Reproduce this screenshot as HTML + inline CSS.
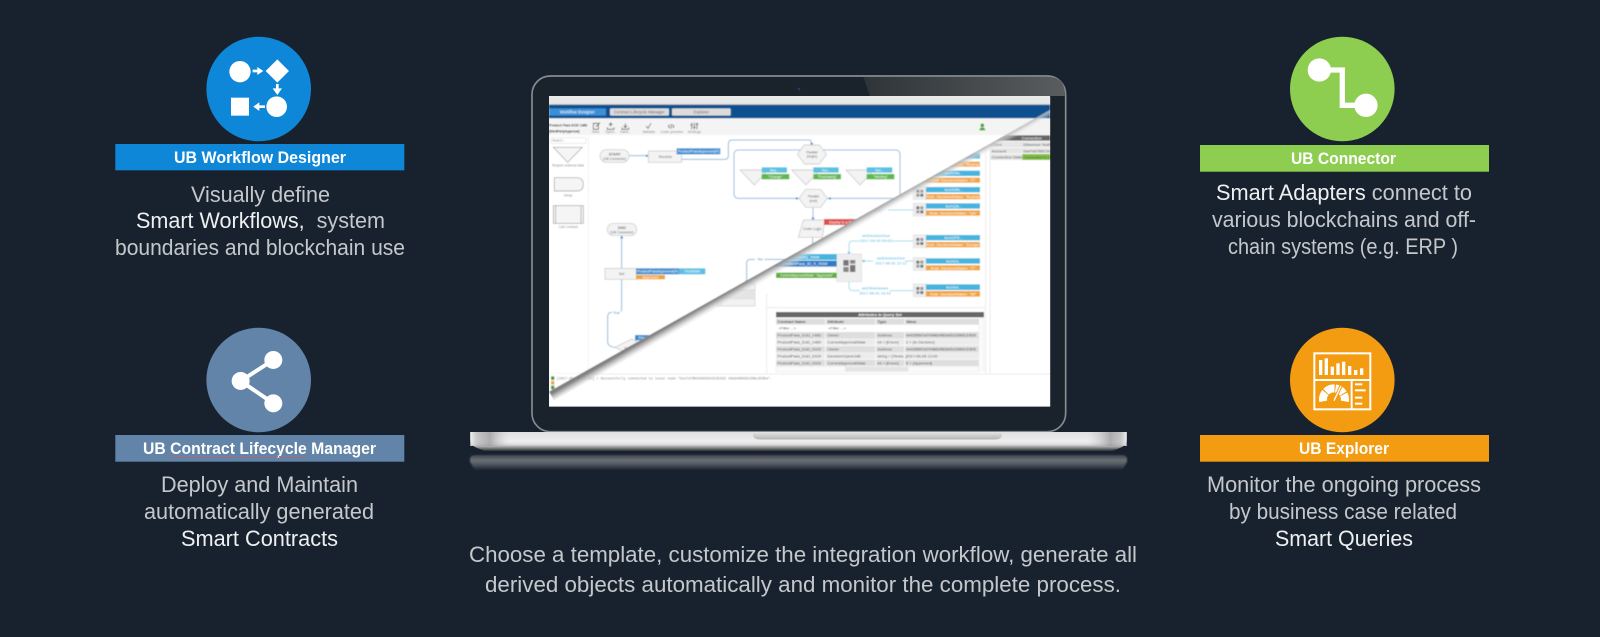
<!DOCTYPE html>
<html><head><meta charset="utf-8"><title>UB Platform</title>
<style>
html,body{margin:0;padding:0;background:#18222f;width:1600px;height:637px;overflow:hidden}
svg{display:block}
text{font-family:"Liberation Sans",sans-serif}
.p{font-size:22px;fill:#c4c8cb}
.b{fill:#eef0f0}
.t{font-size:16.5px;font-weight:bold;fill:#fff}
.s{font-size:12px;fill:#666;text-anchor:middle}
.w{font-size:12px;fill:#fff;text-anchor:middle}
.l{font-size:12px;fill:#888;text-anchor:middle}
.c{font-size:12px;fill:#35b4e0;text-anchor:middle}
.q{font-size:12px;fill:#555}
.h{font-size:12px;fill:#444;font-weight:bold}
.ln{fill:none;stroke:#8fbbe0;stroke-width:3}
.d{fill:none;stroke:#a5dcf2;stroke-width:3}
.n{fill:#f3f3f3;stroke:#c4c4c4;stroke-width:2}
.ar{fill:#3a86c8}
</style></head><body>
<svg width="1600" height="637" viewBox="0 0 1600 637" xmlns="http://www.w3.org/2000/svg">
<defs>
<clipPath id="up"><polygon points="87,80 1590,80 1590,120 87,965"/></clipPath>
<clipPath id="lo"><polygon points="87,965 1590,120 1590,1010 87,1010"/></clipPath>
<clipPath id="scr"><rect x="87" y="80" width="1503" height="930"/></clipPath>
<linearGradient id="shade" gradientUnits="userSpaceOnUse" x1="838" y1="542" x2="853" y2="568">
<stop offset="0" stop-color="#808080"/><stop offset=".45" stop-color="#c4c4c4" stop-opacity=".8"/><stop offset="1" stop-color="#fff" stop-opacity="0"/></linearGradient>
<linearGradient id="base" x1="0" y1="0" x2="0" y2="1">
<stop offset="0" stop-color="#e0e1e4"/><stop offset=".5" stop-color="#f0f0f0"/><stop offset=".66" stop-color="#dcdcdd"/><stop offset=".82" stop-color="#8d8e90"/><stop offset="1" stop-color="#2c3036"/></linearGradient>
<linearGradient id="ends" x1="0" y1="0" x2="1" y2="0">
<stop offset="0" stop-color="#f4f4f4" stop-opacity=".9"/><stop offset=".012" stop-color="#aaa" stop-opacity=".6"/><stop offset=".03" stop-color="#929296" stop-opacity=".7"/><stop offset=".06" stop-color="#ccc" stop-opacity=".05"/><stop offset=".94" stop-color="#ccc" stop-opacity=".05"/><stop offset=".975" stop-color="#929296" stop-opacity=".7"/><stop offset=".99" stop-color="#aaa" stop-opacity=".6"/><stop offset="1" stop-color="#f4f4f4" stop-opacity=".9"/></linearGradient>
<linearGradient id="refl" x1="0" y1="0" x2="0" y2="1">
<stop offset="0" stop-color="#3d444c"/><stop offset=".35" stop-color="#6b7076"/><stop offset=".7" stop-color="#474e57"/><stop offset="1" stop-color="#18222f"/></linearGradient>
<linearGradient id="gloss" x1="0" y1="0" x2="1" y2="0">
<stop offset="0" stop-color="#2e3438"/><stop offset="1" stop-color="#5a5c5e"/></linearGradient>
<linearGradient id="notch" x1="0" y1="0" x2="0" y2="1"><stop offset="0" stop-color="#e4e4e4"/><stop offset="1" stop-color="#b5b5b5"/></linearGradient>
<filter id="soft" x="0" y="0" width="1" height="1"><feGaussianBlur stdDeviation="1.2"/></filter>
<filter id="soft2" x="-.02" y="-.3" width="1.04" height="1.6"><feGaussianBlur stdDeviation=".7"/></filter>
<g id="grid"><rect x="0" y="0" width="38" height="38" fill="#eee" stroke="#ddd" stroke-width="2"/><rect x="9" y="9" width="9" height="9" fill="#777"/><rect x="21" y="9" width="9" height="9" fill="#999"/><rect x="9" y="21" width="9" height="9" fill="#999"/><rect x="21" y="21" width="9" height="9" fill="#777"/></g>
</defs>
<rect width="1600" height="637" fill="#18222f"/>

<!-- Left top -->
<circle cx="258.7" cy="89" r="52.3" fill="#0e87d9"/>
<g transform="translate(100,20) scale(.3333)" fill="#fff">
<circle cx="420" cy="155" r="32"/><polygon points="532,118 567,153 532,188 497,153"/>
<rect x="393" y="233" width="54" height="54"/><circle cx="530" cy="260" r="31"/>
<rect x="458" y="149" width="18" height="8"/><polygon points="472,141 490,153 472,165"/>
<rect x="528" y="192" width="8" height="16"/><polygon points="518,205 546,205 532,225"/>
<rect x="475" y="256" width="20" height="8"/><polygon points="478,247 460,260 478,273"/>
</g>
<rect x="115.3" y="144" width="289" height="26.3" fill="#0e87d9"/>
<text class="t" x="174" y="163" textLength="172" lengthAdjust="spacingAndGlyphs">UB Workflow Designer</text>
<text class="p" x="191" y="202" textLength="139" lengthAdjust="spacingAndGlyphs">Visually define</text>
<text class="p" x="136" y="228" textLength="249" lengthAdjust="spacingAndGlyphs" xml:space="preserve"><tspan class="b">Smart Workflows,</tspan>  system</text>
<text class="p" x="115" y="255" textLength="290" lengthAdjust="spacingAndGlyphs">boundaries and blockchain use</text>

<!-- Left bottom -->
<circle cx="258.7" cy="380" r="52.3" fill="#6184a8"/>
<g transform="translate(100,310) scale(.3333)" fill="#fff">
<path d="M520 150 L422 213 L520 280" fill="none" stroke="#fff" stroke-width="12"/>
<circle cx="520" cy="150" r="27"/><circle cx="422" cy="213" r="27"/><circle cx="520" cy="280" r="27"/>
</g>
<rect x="115.3" y="435" width="289" height="26.7" fill="#6184a8"/>
<text class="t" x="143" y="454" textLength="233" lengthAdjust="spacingAndGlyphs">UB Contract Lifecycle Manager</text>
<path d="M170 456.5H237M240 456.5H307" stroke="#c9605f" stroke-width="1" stroke-dasharray="2 1" fill="none"/>
<text class="p" x="161" y="492" textLength="197" lengthAdjust="spacingAndGlyphs">Deploy and Maintain</text>
<text class="p" x="144" y="519" textLength="230" lengthAdjust="spacingAndGlyphs">automatically generated</text>
<text class="p b" x="181" y="546" textLength="157" lengthAdjust="spacingAndGlyphs">Smart Contracts</text>

<!-- Right top -->
<circle cx="1342.3" cy="89" r="52.3" fill="#8dce50"/>
<g transform="translate(1160,20) scale(.3333)" fill="#fff">
<path d="M478 150H547V256H618" fill="none" stroke="#fff" stroke-width="16"/>
<circle cx="478" cy="150" r="35"/><circle cx="618" cy="256" r="35"/>
</g>
<rect x="1200" y="145" width="289" height="26.7" fill="#8dce50"/>
<text class="t" x="1291" y="164" textLength="105" lengthAdjust="spacingAndGlyphs">UB Connector</text>
<text class="p" x="1216" y="200" textLength="256" lengthAdjust="spacingAndGlyphs"><tspan class="b">Smart Adapters</tspan> connect to</text>
<text class="p" x="1212" y="227" textLength="264" lengthAdjust="spacingAndGlyphs">various blockchains and off-</text>
<text class="p" x="1228" y="254" textLength="230" lengthAdjust="spacingAndGlyphs">chain systems (e.g. ERP )</text>

<!-- Right bottom -->
<circle cx="1342.3" cy="380" r="52.3" fill="#f39c12"/>
<g transform="translate(1160,310) scale(.3333)" fill="#fff">
<rect x="463" y="130" width="168" height="168" fill="none" stroke="#fff" stroke-width="6"/>
<path d="M463 210H631M575 210V298" stroke="#fff" stroke-width="6" fill="none"/>
<rect x="477" y="150" width="10" height="45"/><rect x="494" y="145" width="10" height="50"/><rect x="512" y="170" width="10" height="25"/><rect x="529" y="160" width="10" height="35"/><rect x="546" y="155" width="10" height="40"/><rect x="564" y="168" width="10" height="27"/><rect x="582" y="180" width="10" height="15"/><rect x="600" y="175" width="10" height="20"/>
<path d="M489.5 274A33 33 0 1 1 554.5 274" fill="none" stroke="#fff" stroke-width="24" stroke-dasharray="28 3"/>
<path d="M522 272L543 228" stroke="#f39c12" stroke-width="10"/>
<path d="M522 272L543 228" stroke="#fff" stroke-width="4"/>
<rect x="585" y="220" width="22" height="6"/><rect x="585" y="238" width="32" height="6"/><rect x="585" y="260" width="22" height="6"/><rect x="585" y="278" width="22" height="6"/>
</g>
<rect x="1200" y="435" width="289" height="26.7" fill="#f39c12"/>
<text class="t" x="1299" y="454" textLength="90" lengthAdjust="spacingAndGlyphs">UB Explorer</text>
<text class="p" x="1207" y="492" textLength="274" lengthAdjust="spacingAndGlyphs">Monitor the ongoing process</text>
<text class="p" x="1229" y="519" textLength="228" lengthAdjust="spacingAndGlyphs">by business case related</text>
<text class="p b" x="1275" y="546" textLength="138" lengthAdjust="spacingAndGlyphs">Smart Queries</text>

<!-- Bottom text -->
<text class="p" x="469" y="562" textLength="668" lengthAdjust="spacingAndGlyphs">Choose a template, customize the integration workflow, generate all</text>
<text class="p" x="485" y="592" textLength="636" lengthAdjust="spacingAndGlyphs">derived objects automatically and monitor the complete process.</text>

<!-- Reflection -->
<path filter="url(#soft2)" d="M470 459Q470 455 476 455H1121Q1127 455 1127 459V462L1122 470H475L470 462Z" fill="url(#refl)"/>
<g transform="translate(520,70) scale(.33333)">
<rect x="36" y="18" width="1601" height="1067" rx="55" fill="#1a232b" stroke="#868b8f" stroke-width="5"/>
<path d="M1030 21H1585Q1634 21 1634 70V78H1050Z" fill="url(#gloss)"/>
<rect x="87" y="78" width="1503" height="932" fill="#e8e8e8"/>
<circle cx="837" cy="57" r="4" fill="#273a66"/>

<!-- Screen -->
<g filter="url(#soft)">
<g clip-path="url(#scr)">
<rect x="87" y="80" width="1503" height="930" fill="#fff"/>

<!-- Lower-right layer -->
<g clip-path="url(#lo)">
<rect x="87" y="80" width="1503" height="930" fill="#fff"/>
<rect x="87" y="80" width="1503" height="25" fill="#e8e8e8"/>
<rect x="87" y="105" width="1503" height="40" fill="#0f4f8f"/>
<rect x="87" y="145" width="1503" height="50" fill="#f3f3f3"/>
<rect x="1410" y="196" width="180" height="16" fill="#666"/><text class="w" x="1535" y="208">Connection</text>
<rect x="1410" y="215" width="180" height="17" fill="#e6e6e6"/><text class="q" x="1415" y="228">Client</text><text class="q" x="1510" y="228">Ethereum TestNet</text>
<rect x="1410" y="234" width="180" height="16" fill="#e6e6e6"/><text class="q" x="1415" y="247">Account</text><text class="q" x="1510" y="247">0xeFdd7B5C0dA</text>
<rect x="1410" y="252" width="180" height="18" fill="#e6e6e6"/><text class="q" x="1415" y="265">Connection State</text>
<rect x="1507" y="252" width="83" height="18" fill="#82c341"/><text class="q" x="1510" y="265" fill="#fff">Connected to local</text>
<path d="M1410 196V910M1397 196V910M740 713H1397M87 912H1590M740 670V912" fill="none" stroke="#ececec" stroke-width="3"/>

<!-- role rows -->
<g>
<use href="#grid" x="1180" y="245"/><rect x="1218" y="250" width="162" height="16" fill="#45b4de"/><text class="w" x="1300" y="262">Buyer..</text><rect x="1218" y="275" width="162" height="15" fill="#f2a33a"/><text class="w" x="1300" y="287">Role: DecisionMaker: "Buying"</text>
<use href="#grid" x="1180" y="300"/><rect x="1218" y="302" width="162" height="16" fill="#45b4de"/><text class="w" x="1300" y="314">techDiffs..</text><rect x="1218" y="323" width="162" height="15" fill="#f2a33a"/><text class="w" x="1300" y="335">Role: DecisionMaker: "IT"</text>
<use href="#grid" x="1180" y="350"/><rect x="1218" y="351" width="162" height="16" fill="#45b4de"/><text class="w" x="1300" y="363">techDiffs..</text><rect x="1218" y="372" width="162" height="16" fill="#f2a33a"/><text class="w" x="1300" y="384">Role: DecisionMaker: "Buying"</text>
<use href="#grid" x="1180" y="400"/><rect x="1218" y="400" width="162" height="16" fill="#45b4de"/><text class="w" x="1300" y="412">techQA..</text><rect x="1218" y="421" width="162" height="16" fill="#f2a33a"/><text class="w" x="1300" y="433">Role: DecisionMaker: "QA"</text>
<use href="#grid" x="1180" y="495"/><rect x="1218" y="495" width="162" height="16" fill="#45b4de"/><text class="w" x="1300" y="507">techDPE..</text><rect x="1218" y="516" width="162" height="16" fill="#f2a33a"/><text class="w" x="1300" y="528">Role: DecisionMaker: "Design"</text>
<use href="#grid" x="1180" y="563"/><rect x="1218" y="565" width="162" height="16" fill="#45b4de"/><text class="w" x="1300" y="577">techInt..</text><rect x="1218" y="586" width="162" height="15" fill="#f2a33a"/><text class="w" x="1300" y="598">Role: DecisionMaker: "IT"</text>
<use href="#grid" x="1180" y="642"/><rect x="1218" y="643" width="162" height="17" fill="#45b4de"/><text class="w" x="1300" y="656">techInt..</text><rect x="1218" y="663" width="162" height="17" fill="#f2a33a"/><text class="w" x="1300" y="676">Role: DecisionMaker: "Mf"</text>
</g>
<!-- connector lines -->
<path class="d" d="M1180 420H1105M1180 513H1115M1020 513H998Q987 513 987 525V550M1180 573H1155M1060 573H1030M1180 662H1110M1020 662H998Q987 662 987 650V625"/>
<polygon points="982,546 992,546 987,553" fill="#45b4de"/><polygon points="1033,568 1033,578 1026,573" fill="#45b4de"/><polygon points="982,630 992,630 987,623" fill="#45b4de"/>
<text class="c" x="1068" y="501">setDecisionDue</text><text class="c" x="1068" y="516">2017-09-03 09:02</text>
<text class="c" x="1113" y="569">setDecisionDue</text><text class="c" x="1113" y="583">2017-06-01 12:12</text>
<text class="c" x="1065" y="659">setOtherIssues</text><text class="c" x="1065" y="673">2017-06-01 19:43</text>
<text class="c" x="1075" y="425">2017</text>
<!-- center -->
<rect x="950" y="552" width="75" height="83" fill="#eee" stroke="#ddd" stroke-width="2"/>
<rect x="970" y="570" width="16" height="17" fill="#777"/><rect x="990" y="570" width="16" height="11" fill="#888"/><rect x="970" y="591" width="16" height="15" fill="#888"/><rect x="990" y="585" width="16" height="21" fill="#777"/>
<rect x="700" y="552" width="250" height="18" fill="#45b4de"/><text class="w" x="860" y="565">Country_XNW</text>
<rect x="700" y="572" width="250" height="18" fill="#2d7cc4"/><text class="w" x="855" y="585">ProductPass_ID_X_XNW</text>
<rect x="768" y="608" width="182" height="16" fill="#5fae3c"/><text class="w" x="860" y="620" style="font-size:10.5px">CurrentApprovalState: "Approved"</text>
<!-- yes-table -->
<rect x="592" y="640" width="113" height="68" fill="#f2f2f2" stroke="#ccc" stroke-width="2"/><path d="M604 640V708M592 660H705M592 686H705" stroke="#ccc" stroke-width="2"/><rect x="604" y="661" width="101" height="25" fill="#e4e4e4"/>
<!-- query table -->
<rect x="768" y="726" width="624" height="16" fill="#666"/><text class="w" x="1080" y="738" font-weight="bold">Attributes in Query Set</text>
<rect x="768" y="746" width="608" height="18" fill="#ddd"/>
<text class="h" x="772" y="759">Contract Name</text><text class="h" x="922" y="759">Attribute</text><text class="h" x="1072" y="759">Type</text><text class="h" x="1158" y="759">Value</text>
<rect x="768" y="766" width="608" height="18" fill="#fff"/><text class="q" x="775" y="779" fill="#aaa">&lt;Filter ...&gt;</text><text class="q" x="924" y="779" fill="#aaa">&lt;Filter ...&gt;</text>
<rect x="768" y="786" width="608" height="20" fill="#dedede"/><rect x="768" y="807" width="608" height="19" fill="#ececec"/><rect x="768" y="828" width="608" height="19" fill="#dedede"/><rect x="768" y="848" width="608" height="19" fill="#ececec"/><rect x="768" y="869" width="608" height="19" fill="#dedede"/>
<path d="M916 746V888M1067 746V888M1154 746V888" stroke="#fff" stroke-width="2"/>
<g>
<text class="q" x="772" y="800">ProductPass_EoD_1480</text><text class="q" x="922" y="800">Owner</text><text class="q" x="1072" y="800">Address</text><text class="q" x="1158" y="800" textLength="210">0x4335567a37048624563cb5103960CE5D5</text>
<text class="q" x="772" y="821">ProductPass_EoD_1480</text><text class="q" x="922" y="821">CurrentApprovalState</text><text class="q" x="1072" y="821">int = [Enum]</text><text class="q" x="1158" y="821">2 = [In Decision]</text>
<text class="q" x="772" y="842">ProductPass_EoD_0109</text><text class="q" x="922" y="842">Owner</text><text class="q" x="1072" y="842">Address</text><text class="q" x="1158" y="842" textLength="210">0x4335567a37048624563cb5103960CE5D5</text>
<text class="q" x="772" y="862">ProductPass_EoD_0109</text><text class="q" x="922" y="862">DecisionOpenUntil</text><text class="q" x="1072" y="862">string = [Times..]</text><text class="q" x="1158" y="862">2017-06-06 12:00</text>
<text class="q" x="772" y="883">ProductPass_EoD_0109</text><text class="q" x="922" y="883">CurrentApprovalState</text><text class="q" x="1072" y="883">int = [Enum]</text><text class="q" x="1158" y="883">5 = [Approved]</text>
</g>
<rect x="1376" y="746" width="16" height="156" fill="#fafafa" stroke="#ddd"/>
<rect x="768" y="890" width="608" height="15" fill="#fafafa" stroke="#ddd"/><rect x="975" y="891" width="190" height="13" fill="#e4e4e4"/>
</g>

<!-- Upper-left layer -->
<g clip-path="url(#up)">
<rect x="87" y="80" width="1503" height="930" fill="#fff"/>
<rect x="87" y="80" width="1503" height="25" fill="#e8e8e8"/>
<rect x="87" y="103" width="1503" height="3" fill="#8c96a0"/>
<rect x="87" y="105" width="1503" height="40" fill="#0f4f8f"/>
<rect x="87" y="115" width="171" height="22" rx="3" fill="#3a8fd6"/><text class="w" x="172" y="130" style="font-size:12.5px">Workflow Designer</text>
<rect x="270" y="115" width="177" height="22" rx="3" fill="#dcdcdc"/><text class="s" x="358" y="130" style="font-size:12.5px">Contract Lifecycle Manager</text>
<rect x="456" y="115" width="176" height="22" rx="3" fill="#dcdcdc"/><text class="s" x="544" y="130" style="font-size:12.5px">Explorer</text>
<rect x="87" y="145" width="1503" height="50" fill="#f4f4f4"/>
<text x="87" y="170" textLength="115" lengthAdjust="spacingAndGlyphs" style="font-size:12px;font-weight:bold;fill:#333">Product Pass EOD 1480</text>
<text x="87" y="187" textLength="92" lengthAdjust="spacingAndGlyphs" style="font-size:12px;font-weight:bold;fill:#333">(thirdPartyApproval)</text>
<g fill="none" stroke="#666" stroke-width="2.5">
<path d="M220 160H235V178H220ZM228 170L240 158"/>
<path d="M262 172V178H282V172M272 170V160M267 165L272 159L277 165"/>
<path d="M306 172V178H326V172M316 160V172M311 167L316 173L321 167"/>
<path d="M378 168L384 175L393 160"/>
<path d="M449 164L445 169L449 174M458 164L462 169L458 174M455 162L452 176"/>
<path d="M515 158V178M523 158V178M531 158V178M511 165H519M519 172H527M527 163H535"/>
</g>
<text class="l" x="227" y="189" style="font-size:11px">New</text><text class="l" x="272" y="189" style="font-size:11px">Open..</text><text class="l" x="316" y="189" style="font-size:11px">Save..</text><text class="l" x="386" y="189" style="font-size:11px">Validate</text><text class="l" x="455" y="189" style="font-size:11px">Code preview</text><text class="l" x="523" y="189" style="font-size:11px">Settings</text>
<circle cx="1387" cy="166" r="5.5" fill="#4aa83a"/><path d="M1378 181Q1379 172 1387 172Q1395 172 1396 181Z" fill="#4aa83a"/>

<!-- palette -->
<path d="M205 196V910M87 910H740" fill="none" stroke="#e0e0e0" stroke-width="2" stroke-dasharray="3 2"/>
<rect x="93" y="203" width="105" height="17" fill="#fff" stroke="#e2e2e2" stroke-width="2"/><text class="l" x="116" y="215" style="font-size:10px">Search...</text>
<polygon points="100,232 187,232 143,277" fill="#f5f5f5" stroke="#999" stroke-width="2"/><text class="l" x="144" y="289" style="font-size:10px">Require external data</text>
<path d="M103 323H170Q190 323 190 343Q190 363 170 363H103Z" fill="#f5f5f5" stroke="#999" stroke-width="2"/><text class="l" x="144" y="379" style="font-size:10px">Delay</text>
<rect x="100" y="407" width="90" height="53" fill="#f5f5f5" stroke="#999" stroke-width="2"/><path d="M107 407V460M183 407V460" stroke="#999" stroke-width="2"/><text class="l" x="145" y="474" style="font-size:10px">Call Contract</text>

<!-- flow -->
<path class="ln" d="M327 257H385M485 268H615Q625 268 625 258V222Q625 210 637 210H865Q875 210 875 220V225"/>
<polygon points="378,253 386,257 378,262" class="ar"/><polygon points="870,219 880,219 875,227" class="ar"/>
<rect x="240" y="239" width="87" height="38" rx="19" class="n"/><text class="s" x="284" y="256" style="font-size:11px" font-weight="bold">START</text><text class="s" x="284" y="270" style="font-size:10px">(UB Connector)</text>
<rect x="385" y="243" width="100" height="34" class="n"/><text class="s" x="436" y="264" style="font-size:11px">Receive</text>
<rect x="470" y="235" width="131" height="18" fill="#3c8dd0"/><text class="w" x="536" y="248" style="font-size:11px">ProductPassApproved(R)</text>

<rect x="642" y="240" width="498" height="145" rx="12" fill="none" stroke="#8fbbe0" stroke-width="3"/>
<polygon points="852,225 898,225 920,253 898,282 854,282 832,253" class="n"/><text class="s" x="876" y="251" style="font-size:10px">Parallel</text><text class="s" x="876" y="263" style="font-size:10px">(begin)</text>
<polygon points="857,358 902,358 922,385 902,412 857,412 837,385" class="n" stroke="#c4c4c4"/><text class="s" x="880" y="383" style="font-size:10px">Parallel</text><text class="s" x="880" y="396" style="font-size:10px">(end)</text>
<polygon points="828,381 836,385 828,390" class="ar"/><polygon points="932,381 924,385 932,390" class="ar"/>

<polygon points="660,300 745,300 703,345" class="n" stroke="#aaa"/>
<polygon points="815,300 900,300 858,345" class="n" stroke="#aaa"/>
<polygon points="978,300 1063,300 1020,345" class="n" stroke="#aaa"/>
<rect x="725" y="292" width="76" height="16" fill="#5bc0e2"/><text class="w" x="763" y="304" style="font-size:10px">Buy...</text>
<rect x="725" y="312" width="83" height="16" fill="#5fb84f"/><text class="w" x="766" y="324" style="font-size:10px">"Change"</text>
<rect x="880" y="292" width="76" height="16" fill="#5bc0e2"/><text class="w" x="918" y="304" style="font-size:10px">Not...</text>
<rect x="880" y="312" width="83" height="16" fill="#5fb84f"/><text class="w" x="922" y="324" style="font-size:10px">"Purchasing"</text>
<rect x="1040" y="292" width="77" height="16" fill="#5bc0e2"/><text class="w" x="1078" y="304" style="font-size:10px">Not...</text>
<rect x="1040" y="312" width="83" height="16" fill="#5fb84f"/><text class="w" x="1082" y="324" style="font-size:10px">"Welding"</text>

<path class="ln" d="M879 412V448M878 502V600"/><polygon points="874,443 884,443 879,451" class="ar"/>
<polygon points="850,450 915,450 907,502 835,502" class="n"/><text class="s" x="877" y="480" style="font-size:11px">Code Logic</text>
<rect x="912" y="447" width="118" height="18" fill="#e05050"/><text class="w" x="970" y="460" style="font-size:11px">Deploy to a Block</text>

<rect x="262" y="460" width="88" height="37" rx="18" class="n"/><text class="s" x="306" y="477" style="font-size:11px" font-weight="bold">END</text><text class="s" x="306" y="490" style="font-size:10px">(UB Connector)</text>
<path class="ln" d="M305 497V595M305 628V715Q305 727 295 727H275Q263 727 263 740V815Q263 830 285 832"/>
<polygon points="300,505 310,505 305,497" class="ar"/>
<rect x="255" y="595" width="95" height="33" class="n"/><text class="s" x="305" y="615" style="font-size:11px">Set</text>
<rect x="348" y="595" width="130" height="18" fill="#3c8dd0"/><text class="w" x="413" y="608" style="font-size:11px">ProductPassApproved(R)</text>
<rect x="478" y="595" width="78" height="18" fill="#5bc0e2"/><text class="w" x="517" y="608" style="font-size:11px">FirstWaitr</text>
<rect x="348" y="615" width="87" height="13" fill="#f2a33a"/><text class="w" x="391" y="626" style="font-size:11px">Approved</text>
<rect x="276" y="722" width="26" height="12" fill="#fff"/><text class="c" x="289" y="732" style="font-size:10px;fill:#3a86c8">True</text>
<polygon points="285,832 335,807 385,832 335,857" class="n"/><text class="s" x="320" y="838" style="font-size:10px">No</text>
<rect x="345" y="795" width="70" height="16" fill="#3c8dd0"/><text class="w" x="368" y="807" style="font-size:10px">Play..</text>
<path class="ln" d="M680 640V580Q680 568 692 568H820"/><polygon points="675,632 685,632 680,640" class="ar"/><rect x="705" y="563" width="28" height="12" fill="#fff"/><text class="c" x="720" y="572" style="font-size:10px;fill:#3a86c8">Yes</text>
</g>

<!-- Console -->
<rect x="93" y="919" width="10" height="11" fill="#4f9a3a"/><rect x="93" y="933" width="10" height="11" fill="#f2a33a"/><rect x="93" y="947" width="10" height="11" fill="#4f9a3a"/>
<text x="110" y="929" style="font-family:'Liberation Mono',monospace;font-size:10.5px;fill:#777">[2017-09-06 15:30] &gt; Successfully connected to local node "0xe7d7B5564D5642535592 4Da9406A5528Bc2D3Da".</text>

<!-- Fold shadow -->
<polygon points="87,965 1590,120 1605,146 102,991" fill="url(#shade)"/>
</g>
</g>
<rect x="87" y="1008" width="1503" height="3" fill="#a8acb0"/>
</g>

<!-- Laptop base -->
<path d="M470.3 432H1126.7V440Q1126.7 445 1120 448L1112 451H485L477 448Q470.3 445 470.3 440Z" fill="url(#base)"/>
<rect x="470.3" y="432" width="656.4" height="14" fill="url(#ends)"/>
<path d="M753 432H1002V435Q1002 439.5 994 439.5H761Q753 439.5 753 435Z" fill="url(#notch)"/>
</svg>
</body></html>
